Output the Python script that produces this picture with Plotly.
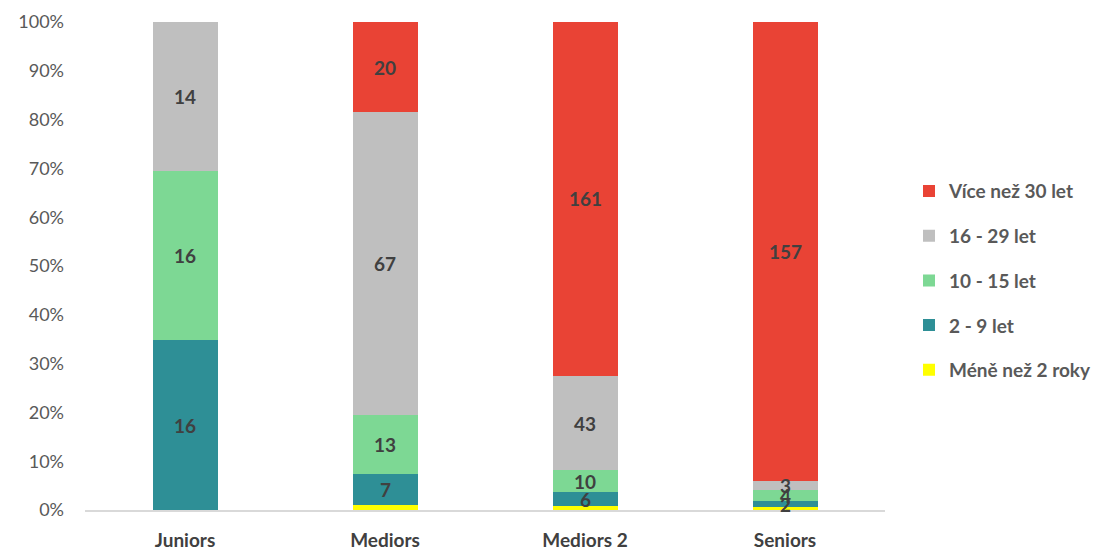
import numpy as np
import plotly.graph_objects as go

# Staff groups and years-of-experience buckets
categories = ["Juniors", "Mediors", "Mediors 2", "Seniors"]
series_names = ["Méně než 2 roky", "2 - 9 let", "10 - 15 let", "16 - 29 let", "Více než 30 let"]

mene_nez_2 = [0, 1, 2, 1]
let_2_9 = [16, 7, 6, 2]
let_10_15 = [16, 13, 10, 4]
let_16_29 = [14, 67, 43, 3]
vice_nez_30 = [0, 20, 161, 157]

y_tick_values = [0, 10, 20, 30, 40, 50, 60, 70, 80, 90, 100]
y_tick_labels = ["0%", "10%", "20%", "30%", "40%", "50%", "60%", "70%", "80%", "90%", "100%"]

colors = ["#FFFF00", "#2E8F96", "#7DD894", "#BFBFBF", "#E94335"]
show_labels = [False, True, True, True, True]

counts = np.array([mene_nez_2, let_2_9, let_10_15, let_16_29, vice_nez_30], dtype=float)
shares = counts / counts.sum(axis=0) * 100
tops = np.cumsum(shares, axis=0)
mids = tops - shares / 2

font_family = "Lato, 'Open Sans', sans-serif"

fig = go.Figure()
for i, name in enumerate(series_names):
    fig.add_trace(go.Bar(
        x=categories,
        y=shares[i],
        name=f"<b>{name}</b>",
        marker=dict(color=colors[i], line=dict(width=0)),
        legendgroup=name,
        legendrank=len(series_names) - i,  # top segment listed first
        hoverinfo="skip",
    ))

# Value labels centred in each segment
for i, name in enumerate(series_names):
    if not show_labels[i]:
        continue
    for j, cat in enumerate(categories):
        if counts[i, j] <= 0:
            continue
        fig.add_annotation(
            x=cat, y=mids[i, j], text=f"<b>{int(counts[i, j])}</b>",
            showarrow=False, xanchor="center", yanchor="middle",
            font=dict(family=font_family, size=19, color="#404040"),
        )

fig.update_layout(
    width=1116, height=551,
    margin=dict(l=85, r=231, t=22, b=41, autoexpand=False),
    paper_bgcolor="white", plot_bgcolor="white",
    barmode="stack", bargap=0.675,
    font=dict(family=font_family, color="#595959"),
    legend=dict(
        traceorder="grouped", tracegroupgap=17,
        x=1.03, xanchor="left", y=0.47, yanchor="middle",
        font=dict(family=font_family, size=19, color="#595959"),
        itemwidth=30,
    ),
    xaxis=dict(
        showgrid=False, showline=True, linecolor="#D9D9D9", linewidth=2,
        ticks="", tickfont=dict(family=font_family, size=19, color="#404040"),
        ticklabelstandoff=12, automargin=False,
        tickvals=categories,
        ticktext=[f"<b>{c}</b>" for c in categories],
    ),
    yaxis=dict(
        range=[0, 100], showgrid=False, zeroline=False, showline=False,
        tickvals=y_tick_values, ticktext=y_tick_labels,
        tickfont=dict(family=font_family, size=18, color="#595959"),
        ticklabelstandoff=20, automargin=False,
    ),
)

fig.write_html("out.html")
